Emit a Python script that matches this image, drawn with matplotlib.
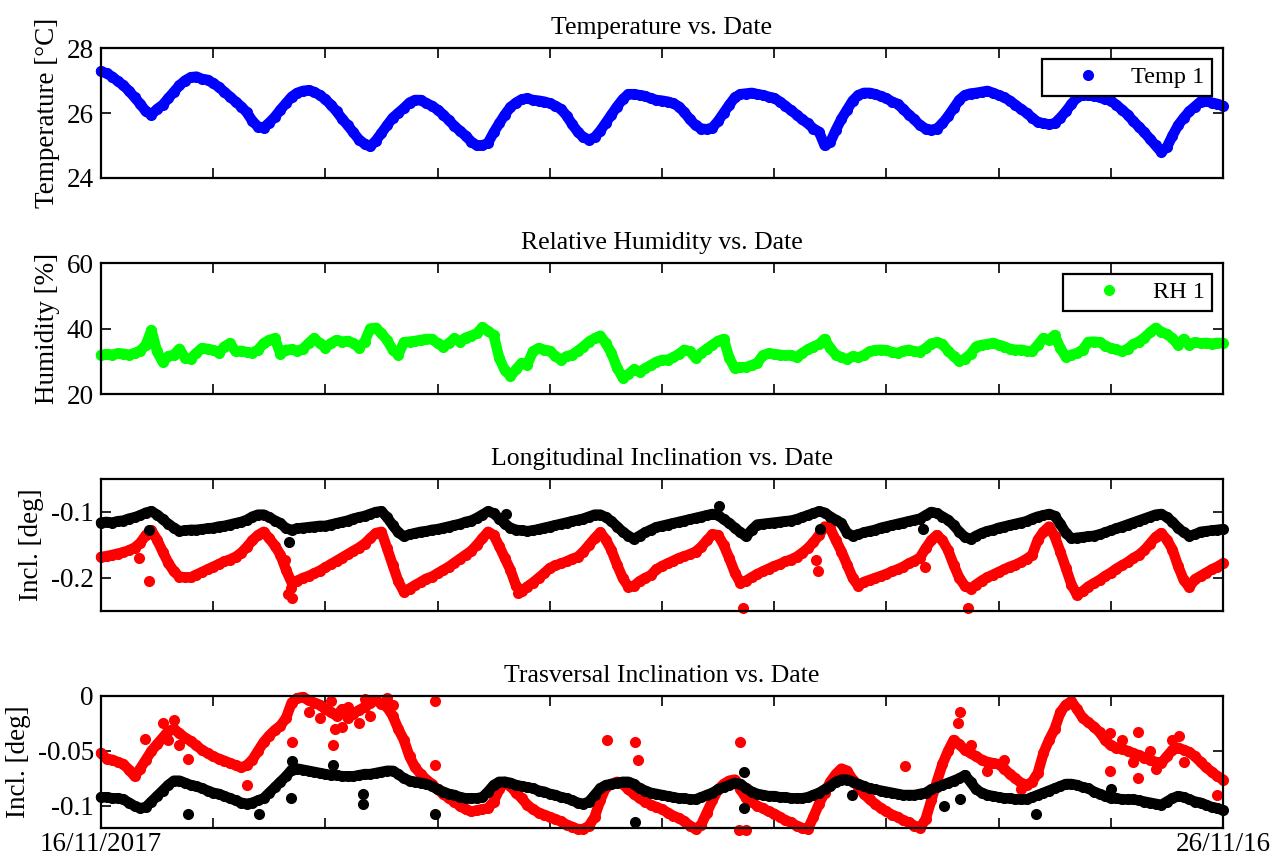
import matplotlib
matplotlib.use('Agg')
import matplotlib.pyplot as plt
import matplotlib.dates as mdates
import numpy as np
from datetime import datetime

plt.rcParams['font.family'] = ['Liberation Serif', 'DejaVu Serif']
plt.rcParams['axes.unicode_minus'] = False

# sampling: one reading every 0.05 day (72 min) starting 16/11/2017 00:00
start = mdates.date2num(datetime(2017, 11, 16))
step = 0.05

temp_1 = [
    27.28, 27.22, 27.12, 26.98, 26.85, 26.68, 26.48, 26.28, 26.05, 25.95,
    26.12, 26.25, 26.45, 26.65, 26.85, 27.00, 27.10, 27.12, 27.05, 27.02,
    26.92, 26.80, 26.65, 26.50, 26.35, 26.20, 26.02, 25.75, 25.58, 25.55,
    25.70, 25.88, 26.10, 26.30, 26.50, 26.62, 26.68, 26.70, 26.65, 26.55,
    26.42, 26.25, 26.05, 25.82, 25.62, 25.40, 25.18, 25.05, 24.97, 25.15,
    25.38, 25.62, 25.85, 26.00, 26.15, 26.32, 26.40, 26.40, 26.30, 26.22,
    26.10, 25.95, 25.78, 25.60, 25.45, 25.30, 25.12, 25.00, 25.00, 25.08,
    25.40, 25.68, 25.95, 26.18, 26.32, 26.42, 26.45, 26.40, 26.38, 26.35,
    26.30, 26.22, 26.12, 25.92, 25.65, 25.42, 25.25, 25.18, 25.25, 25.45,
    25.70, 25.95, 26.20, 26.42, 26.58, 26.58, 26.55, 26.52, 26.45, 26.40,
    26.38, 26.35, 26.30, 26.20, 26.02, 25.80, 25.62, 25.52, 25.50, 25.55,
    25.75, 26.00, 26.25, 26.48, 26.58, 26.60, 26.62, 26.58, 26.55, 26.50,
    26.46, 26.35, 26.22, 26.08, 25.95, 25.80, 25.68, 25.52, 25.42, 25.00,
    25.10, 25.48, 25.82, 26.10, 26.38, 26.55, 26.62, 26.62, 26.58, 26.52,
    26.45, 26.35, 26.28, 26.12, 25.95, 25.80, 25.62, 25.52, 25.48, 25.52,
    25.68, 25.90, 26.15, 26.40, 26.55, 26.60, 26.62, 26.65, 26.68, 26.62,
    26.55, 26.48, 26.38, 26.25, 26.12, 26.00, 25.85, 25.72, 25.68, 25.65,
    25.68, 25.85, 26.05, 26.28, 26.48, 26.55, 26.55, 26.52, 26.48, 26.42,
    26.38, 26.25, 26.10, 25.95, 25.75, 25.58, 25.40, 25.20, 25.00, 24.80,
    24.95, 25.30, 25.62, 25.85, 26.05, 26.20, 26.35, 26.38, 26.32, 26.28,
    26.22]

rh_1 = [
    31.9, 32.2, 32.0, 32.4, 32.3, 32.0, 32.5, 33.2, 35.0, 39.5,
    33.0, 29.8, 31.5, 32.0, 33.8, 31.0, 30.8, 32.5, 34.0, 33.8,
    33.4, 32.6, 34.5, 35.5, 33.0, 33.2, 32.8, 32.6, 33.5, 35.5,
    36.5, 37.0, 32.2, 33.5, 33.6, 33.2, 33.8, 35.5, 37.0, 35.5,
    34.2, 35.5, 36.5, 36.0, 36.2, 35.5, 34.2, 36.0, 40.0, 40.2,
    38.5, 36.5, 33.5, 32.0, 35.8, 36.0, 36.2, 36.5, 36.8, 36.8,
    35.5, 34.5, 35.5, 37.0, 36.0, 37.2, 37.8, 38.5, 40.4, 39.2,
    38.0, 31.0, 27.2, 25.5, 27.5, 29.5, 29.0, 33.0, 34.0, 33.5,
    33.2, 31.5, 30.5, 31.5, 32.0, 33.2, 34.5, 36.0, 37.0, 37.8,
    35.5, 32.5, 28.0, 25.0, 26.0, 27.5, 26.8, 27.8, 28.8, 29.8,
    30.4, 30.4, 31.2, 32.2, 33.5, 33.0, 31.0, 32.5, 33.8, 35.0,
    36.2, 36.8, 31.0, 27.8, 28.2, 28.2, 28.8, 29.5, 31.8, 32.4,
    32.2, 32.0, 31.8, 31.8, 31.2, 32.5, 33.6, 34.5, 35.2, 36.8,
    34.0, 32.0, 31.2, 30.6, 31.5, 31.2, 31.8, 33.0, 33.4, 33.5,
    33.4, 32.8, 32.5, 33.2, 33.5, 33.0, 32.9, 34.0, 35.4, 35.8,
    35.2, 33.2, 31.5, 30.0, 30.8, 32.2, 34.5, 35.0, 35.2, 35.6,
    35.0, 34.5, 33.8, 33.5, 33.5, 33.2, 33.0, 35.0, 37.1, 36.5,
    38.0, 34.0, 31.3, 32.0, 32.5, 33.5, 35.9, 36.0, 35.8, 34.8,
    34.0, 33.6, 33.0, 33.8, 35.2, 36.0, 37.2, 38.8, 40.2, 39.0,
    38.3, 37.0, 35.0, 36.8, 35.0, 35.8, 35.5, 35.6, 35.4, 35.6,
    35.6]

long_black = [
    -0.116, -0.115, -0.116, -0.114, -0.113, -0.110, -0.108, -0.105, -0.101, -0.099,
    -0.104, -0.111, -0.118, -0.124, -0.129, -0.128, -0.127, -0.127, -0.126, -0.125,
    -0.124, -0.122, -0.121, -0.119, -0.117, -0.115, -0.112, -0.107, -0.104, -0.104,
    -0.108, -0.113, -0.117, -0.125, -0.127, -0.125, -0.124, -0.123, -0.122, -0.121,
    -0.121, -0.119, -0.117, -0.115, -0.113, -0.110, -0.108, -0.106, -0.103, -0.100,
    -0.099, -0.108, -0.120, -0.131, -0.137, -0.134, -0.132, -0.130, -0.129, -0.127,
    -0.126, -0.124, -0.122, -0.120, -0.118, -0.115, -0.113, -0.109, -0.104, -0.099,
    -0.102, -0.110, -0.118, -0.124, -0.127, -0.128, -0.129, -0.128, -0.126, -0.124,
    -0.122, -0.120, -0.118, -0.116, -0.114, -0.112, -0.110, -0.107, -0.104, -0.104,
    -0.108, -0.114, -0.122, -0.130, -0.136, -0.141, -0.136, -0.131, -0.127, -0.123,
    -0.121, -0.119, -0.117, -0.115, -0.113, -0.111, -0.109, -0.107, -0.105, -0.103,
    -0.105, -0.111, -0.117, -0.124, -0.131, -0.137, -0.127, -0.119, -0.118, -0.117,
    -0.116, -0.115, -0.114, -0.113, -0.111, -0.108, -0.105, -0.102, -0.099, -0.101,
    -0.107, -0.112, -0.117, -0.132, -0.136, -0.134, -0.131, -0.129, -0.127, -0.124,
    -0.122, -0.120, -0.118, -0.116, -0.114, -0.112, -0.110, -0.105, -0.100, -0.102,
    -0.107, -0.112, -0.120, -0.130, -0.138, -0.141, -0.136, -0.132, -0.129, -0.127,
    -0.124, -0.122, -0.120, -0.118, -0.116, -0.114, -0.110, -0.107, -0.105, -0.103,
    -0.106, -0.118, -0.132, -0.140, -0.139, -0.138, -0.137, -0.136, -0.134, -0.131,
    -0.128, -0.125, -0.122, -0.119, -0.116, -0.113, -0.110, -0.107, -0.104, -0.103,
    -0.108, -0.115, -0.124, -0.131, -0.136, -0.134, -0.130, -0.129, -0.128, -0.127,
    -0.126]

long_red = [
    -0.168, -0.167, -0.165, -0.163, -0.161, -0.158, -0.154, -0.147, -0.135, -0.128,
    -0.142, -0.160, -0.177, -0.190, -0.198, -0.199, -0.199, -0.195, -0.191, -0.187,
    -0.183, -0.179, -0.175, -0.172, -0.168, -0.162, -0.153, -0.143, -0.135, -0.130,
    -0.140, -0.151, -0.165, -0.188, -0.207, -0.204, -0.200, -0.197, -0.193, -0.189,
    -0.184, -0.179, -0.174, -0.169, -0.164, -0.159, -0.154, -0.148, -0.140, -0.132,
    -0.130, -0.155, -0.180, -0.205, -0.221, -0.216, -0.211, -0.206, -0.201, -0.198,
    -0.193, -0.188, -0.183, -0.177, -0.171, -0.165, -0.159, -0.150, -0.140, -0.130,
    -0.135, -0.152, -0.170, -0.188, -0.212, -0.220, -0.213, -0.207, -0.200, -0.193,
    -0.185, -0.181, -0.178, -0.175, -0.171, -0.168, -0.160, -0.150, -0.140, -0.131,
    -0.142, -0.158, -0.180, -0.200, -0.213, -0.212, -0.205, -0.200, -0.196, -0.187,
    -0.182, -0.178, -0.174, -0.170, -0.167, -0.164, -0.160, -0.153, -0.143, -0.134,
    -0.135, -0.150, -0.170, -0.192, -0.208, -0.204, -0.199, -0.194, -0.190, -0.186,
    -0.182, -0.179, -0.175, -0.172, -0.168, -0.162, -0.155, -0.146, -0.135, -0.122,
    -0.125, -0.143, -0.160, -0.180, -0.200, -0.212, -0.206, -0.203, -0.200, -0.197,
    -0.194, -0.190, -0.187, -0.183, -0.178, -0.174, -0.169, -0.155, -0.143, -0.135,
    -0.143, -0.158, -0.180, -0.200, -0.212, -0.216, -0.210, -0.204, -0.199, -0.195,
    -0.191, -0.187, -0.183, -0.180, -0.176, -0.171, -0.165, -0.142, -0.130, -0.122,
    -0.137, -0.160, -0.185, -0.210, -0.226, -0.220, -0.213, -0.208, -0.203, -0.197,
    -0.192, -0.186, -0.181, -0.176, -0.170, -0.165, -0.158, -0.148, -0.138, -0.132,
    -0.142, -0.157, -0.182, -0.203, -0.214, -0.202, -0.197, -0.192, -0.187, -0.183,
    -0.178]

trans_red = [
    -0.052, -0.057, -0.058, -0.060, -0.062, -0.067, -0.073, -0.066, -0.058, -0.050,
    -0.044, -0.038, -0.032, -0.030, -0.034, -0.038, -0.041, -0.045, -0.049, -0.052,
    -0.055, -0.057, -0.059, -0.061, -0.063, -0.065, -0.063, -0.058, -0.050, -0.042,
    -0.036, -0.031, -0.027, -0.020, -0.006, -0.002, -0.001, -0.004, -0.006, -0.008,
    -0.012, -0.015, -0.018, -0.012, -0.020, -0.016, -0.013, -0.010, -0.006, -0.004,
    -0.007, -0.010, -0.018, -0.030, -0.040, -0.055, -0.065, -0.071, -0.076, -0.080,
    -0.085, -0.089, -0.093, -0.096, -0.100, -0.103, -0.105, -0.104, -0.103, -0.102,
    -0.096, -0.085, -0.078, -0.082, -0.088, -0.093, -0.099, -0.103, -0.106, -0.108,
    -0.110, -0.112, -0.114, -0.117, -0.119, -0.121, -0.121, -0.118, -0.110, -0.095,
    -0.083, -0.080, -0.078, -0.080, -0.085, -0.089, -0.093, -0.096, -0.099, -0.101,
    -0.103, -0.106, -0.109, -0.111, -0.114, -0.118, -0.121, -0.117, -0.106, -0.095,
    -0.085, -0.080, -0.077, -0.076, -0.085, -0.093, -0.096, -0.100, -0.102, -0.105,
    -0.107, -0.110, -0.113, -0.115, -0.118, -0.120, -0.121, -0.110, -0.098, -0.088,
    -0.078, -0.071, -0.066, -0.068, -0.076, -0.083, -0.089, -0.094, -0.098, -0.102,
    -0.105, -0.108, -0.110, -0.113, -0.115, -0.118, -0.120, -0.112, -0.095, -0.078,
    -0.062, -0.050, -0.040, -0.044, -0.049, -0.052, -0.055, -0.058, -0.060, -0.061,
    -0.062, -0.066, -0.071, -0.075, -0.079, -0.081, -0.078, -0.070, -0.052, -0.040,
    -0.030, -0.015, -0.008, -0.005, -0.012, -0.020, -0.024, -0.028, -0.033, -0.040,
    -0.045, -0.047, -0.048, -0.050, -0.052, -0.054, -0.056, -0.058, -0.060, -0.061,
    -0.055, -0.049, -0.047, -0.049, -0.051, -0.055, -0.060, -0.065, -0.069, -0.073,
    -0.076]

trans_black = [
    -0.092, -0.092, -0.093, -0.093, -0.094, -0.097, -0.100, -0.102, -0.101, -0.096,
    -0.091, -0.086, -0.081, -0.077, -0.077, -0.079, -0.081, -0.082, -0.084, -0.086,
    -0.088, -0.089, -0.091, -0.093, -0.095, -0.097, -0.098, -0.097, -0.095, -0.093,
    -0.088, -0.083, -0.078, -0.073, -0.067, -0.066, -0.067, -0.068, -0.069, -0.070,
    -0.071, -0.072, -0.072, -0.073, -0.073, -0.073, -0.072, -0.071, -0.071, -0.070,
    -0.069, -0.068, -0.068, -0.071, -0.075, -0.077, -0.078, -0.079, -0.080, -0.082,
    -0.085, -0.087, -0.089, -0.090, -0.092, -0.093, -0.093, -0.093, -0.092, -0.087,
    -0.081, -0.078, -0.078, -0.079, -0.081, -0.082, -0.083, -0.084, -0.086, -0.087,
    -0.089, -0.090, -0.092, -0.093, -0.095, -0.097, -0.098, -0.096, -0.090, -0.084,
    -0.081, -0.080, -0.079, -0.078, -0.078, -0.080, -0.084, -0.086, -0.088, -0.089,
    -0.090, -0.091, -0.092, -0.093, -0.093, -0.094, -0.094, -0.092, -0.090, -0.088,
    -0.085, -0.083, -0.081, -0.079, -0.080, -0.084, -0.087, -0.089, -0.090, -0.091,
    -0.091, -0.092, -0.092, -0.093, -0.093, -0.093, -0.092, -0.090, -0.088, -0.085,
    -0.082, -0.078, -0.076, -0.076, -0.078, -0.080, -0.082, -0.084, -0.085, -0.086,
    -0.087, -0.088, -0.089, -0.090, -0.090, -0.090, -0.089, -0.088, -0.085, -0.083,
    -0.081, -0.079, -0.077, -0.075, -0.072, -0.078, -0.085, -0.088, -0.090, -0.091,
    -0.092, -0.093, -0.093, -0.094, -0.094, -0.094, -0.092, -0.090, -0.088, -0.086,
    -0.084, -0.082, -0.080, -0.080, -0.081, -0.083, -0.084, -0.087, -0.089, -0.091,
    -0.093, -0.093, -0.094, -0.094, -0.094, -0.095, -0.096, -0.097, -0.098, -0.099,
    -0.096, -0.093, -0.091, -0.092, -0.094, -0.096, -0.097, -0.099, -0.101, -0.102,
    -0.104]

# isolated readings off the main trend (day offset, value)
long_red_extra_t = [0.34, 0.43, 1.64, 1.67, 1.69, 1.70, 3.72, 5.72, 6.37, 6.39, 7.34, 7.73]
long_red_extra_v = [-0.169, -0.204, -0.172, -0.224, -0.215, -0.231, -0.222, -0.246, -0.172, -0.190, -0.183, -0.245]
long_black_extra_t = [0.43, 1.68, 3.61, 5.51, 6.41, 7.33]
long_black_extra_v = [-0.128, -0.145, -0.103, -0.091, -0.126, -0.126]

trans_red_extra_t = [0.39, 0.55, 0.60, 0.65, 0.70, 0.78, 1.30, 1.70, 1.85, 1.95,
                     2.05, 2.07, 2.09, 2.15, 2.20, 2.30, 2.35, 2.40, 2.55, 2.60,
                     2.98, 2.98, 4.51, 4.76, 4.79, 5.69, 5.70, 5.75, 7.17, 7.64,
                     7.66, 7.75, 7.90, 8.05, 8.20, 8.99, 8.99, 9.10, 9.20, 9.24,
                     9.24, 9.35, 9.40, 9.55, 9.61, 9.65, 9.95]
trans_red_extra_v = [-0.039, -0.025, -0.040, -0.022, -0.045, -0.057, -0.081, -0.042, -0.015, -0.020,
                     -0.005, -0.045, -0.030, -0.028, -0.010, -0.025, -0.003, -0.018, -0.002, -0.008,
                     -0.005, -0.063, -0.040, -0.042, -0.058, -0.122, -0.042, -0.122, -0.064, -0.025,
                     -0.015, -0.045, -0.068, -0.058, -0.085, -0.034, -0.068, -0.040, -0.060, -0.033,
                     -0.075, -0.050, -0.066, -0.040, -0.036, -0.060, -0.090]
trans_black_extra_t = [0.78, 1.41, 1.69, 1.70, 2.07, 2.34, 2.34, 2.98, 4.76, 5.73, 5.73, 6.69, 7.51, 7.66, 8.33, 9.00]
trans_black_extra_v = [-0.107, -0.107, -0.093, -0.059, -0.063, -0.089, -0.098, -0.107, -0.115, -0.102, -0.069, -0.090, -0.100, -0.094, -0.107, -0.085]

titles = ['Temperature vs. Date', 'Relative Humidity vs. Date',
          'Longitudinal Inclination vs. Date', 'Trasversal Inclination vs. Date']
ylabels = ['Temperature [°C]', 'Humidity [%]', 'Incl. [deg]', 'Incl. [deg]']
ylims = [(24, 28), (20, 60), (-0.25, -0.05), (-0.12, 0)]
yticks = [[24, 26, 28], [20, 40, 60], [-0.2, -0.1], [-0.1, -0.05, 0]]
ytick_labels = [['24', '26', '28'], ['20', '40', '60'], ['-0.2', '-0.1'], ['-0.1', '-0.05', '0']]
date_labels = ['16/11/2017', '', '', '', '', '', '', '', '', '', '26/11/16']


def times(vals):
    return start + np.arange(len(vals)) * step


fig = plt.figure(figsize=(12.81, 8.59), dpi=100)
boxes = [[0.0788, 0.7928, 0.8759, 0.1513],
         [0.0788, 0.5413, 0.8759, 0.1525],
         [0.0788, 0.2887, 0.8759, 0.1537],
         [0.0788, 0.0361, 0.8759, 0.1537]]
axes = [fig.add_axes(b) for b in boxes]

ms = 8
# dense logger readings: dots on a band of the same width so they merge
band = dict(ls='-', lw=7.5, marker='o', ms=ms, mew=0, clip_on=False,
            solid_joinstyle='round', solid_capstyle='round')
dots = dict(ls='none', marker='o', ms=ms, mew=0, clip_on=False)

axes[0].plot(times(temp_1), temp_1, color=(0, 0, 1), **band)
axes[0].plot([], [], color=(0, 0, 1), label='Temp 1', **dots)
axes[1].plot(times(rh_1), rh_1, color=(0, 1, 0), **band)
axes[1].plot([], [], color=(0, 1, 0), label='RH 1', **dots)

axes[2].plot(times(long_red), long_red, color=(1, 0, 0), **band)
axes[2].plot(start + np.array(long_red_extra_t), long_red_extra_v, color=(1, 0, 0), **dots)
axes[2].plot(times(long_black), long_black, color='k', **band)
axes[2].plot(start + np.array(long_black_extra_t), long_black_extra_v, color='k', **dots)

axes[3].plot(times(trans_red), trans_red, color=(1, 0, 0), **band)
axes[3].plot(start + np.array(trans_red_extra_t), trans_red_extra_v, color=(1, 0, 0), **dots)
axes[3].plot(times(trans_black), trans_black, color='k', **band)
axes[3].plot(start + np.array(trans_black_extra_t), trans_black_extra_v, color='k', **dots)

xt = start + np.arange(len(date_labels))
for i, ax in enumerate(axes):
    ax.set_xlim(start, start + 10)
    ax.set_ylim(*ylims[i])
    ax.set_xticks(xt)
    ax.set_yticks(yticks[i])
    ax.set_yticklabels(ytick_labels[i])
    if i == 3:
        ax.set_xticklabels(date_labels)
    else:
        ax.set_xticklabels([])
    ax.tick_params(direction='in', length=7, width=1.2, top=True, right=True,
                   labelsize=19.5, pad=5, colors='k')
    ax.tick_params(axis='x', pad=3)
    for s in ax.spines.values():
        s.set_linewidth(1.6)
    ax.set_title(titles[i], fontsize=18.5, pad=10)
    ax.set_ylabel(ylabels[i], fontsize=19.5, labelpad=5)

for ax in axes[:2]:
    leg = ax.legend(loc='upper right', fancybox=False, edgecolor='black', framealpha=1,
                    borderpad=0.3, handlelength=3.2, handletextpad=0.2, borderaxespad=0.45,
                    fontsize=17.5, markerscale=1.0)
    leg.get_frame().set_linewidth(1.6)

fig.savefig('out.png', dpi=100)
